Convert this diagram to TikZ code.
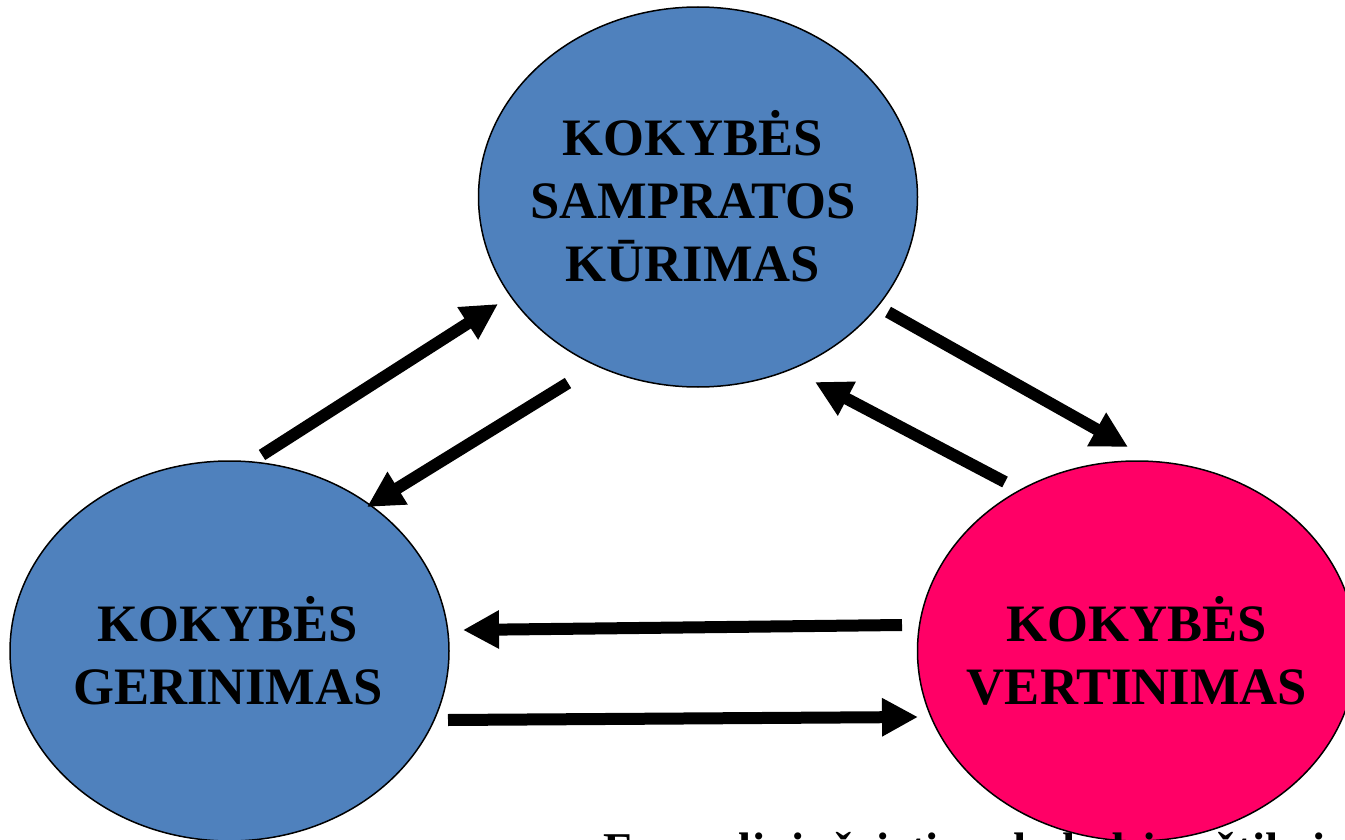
\documentclass[tikz,border=0pt]{standalone}
\usepackage{fontspec}
\setmainfont{Liberation Serif}
\usetikzlibrary{shapes.geometric,arrows.meta}
\definecolor{blueell}{HTML}{4F81BD}
\definecolor{pinkell}{HTML}{FF0066}
\begin{document}
\begin{tikzpicture}[x=1pt,y=-1pt,
  bubble/.style={ellipse,draw=black,line width=1.5pt,inner sep=0pt,
    minimum width=439pt,minimum height=380pt},
  label/.style={align=center,inner sep=0pt,
    font=\fontsize{52.6}{63}\selectfont\bfseries},
  bigarrow/.style={line width=12pt,-{Triangle[length=36pt,width=36pt]}}]
\useasboundingbox (0,0) rectangle (1345,840);
\clip (0,0) rectangle (1345,840);
\node[bubble,fill=blueell] (top) at (698,197) {};
\node[bubble,fill=blueell] (left) at (229.5,651) {};
\node[bubble,fill=pinkell] (right) at (1137,651) {};
\node[label] (toptext) at (693,196) {KOKYBĖS\\SAMPRATOS\\KŪRIMAS};
\node[label] (lefttext) at (228,651) {KOKYBĖS\\GERINIMAS};
\node[label] (righttext) at (1137,651) {KOKYBĖS\\VERTINIMAS};
\coordinate (a1s) at (262,455); \coordinate (a1e) at (498,304);
\coordinate (a2s) at (568,383); \coordinate (a2e) at (367,507);
\coordinate (a3s) at (888,312); \coordinate (a3e) at (1128,447);
\coordinate (a4s) at (1005,482); \coordinate (a4e) at (815,382);
\coordinate (a5s) at (902,625); \coordinate (a5e) at (463,630);
\coordinate (a6s) at (448,720); \coordinate (a6e) at (918,717);
\foreach \i in {1,...,6} {\draw[bigarrow] (a\i s) -- (a\i e);}
\node[anchor=base west,inner sep=0pt,font=\fontsize{47}{56}\selectfont\bfseries] (caption) at (603,865) {Formalinis švietimo kokybės užtikrinimas};
\end{tikzpicture}
\end{document}
